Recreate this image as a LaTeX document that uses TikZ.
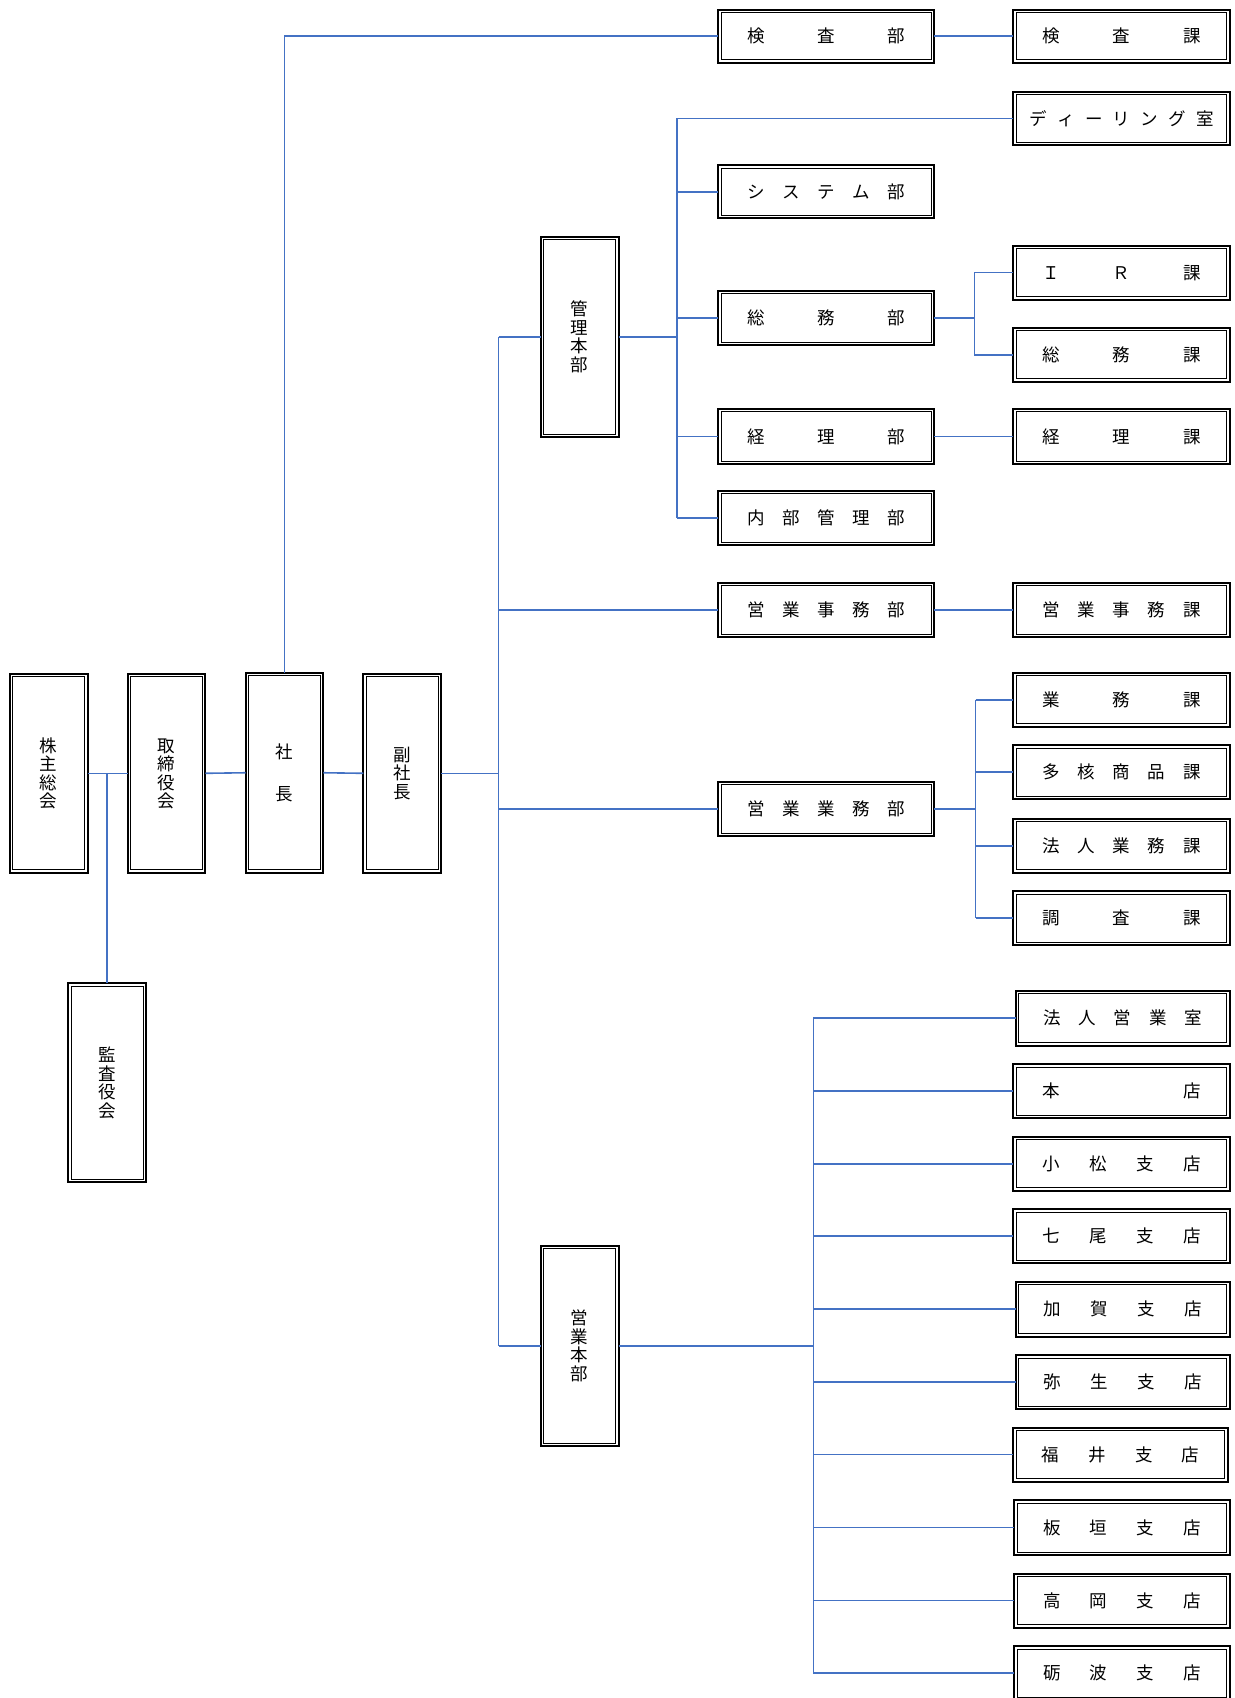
\documentclass[tikz,border=0pt]{standalone}
\usepackage{fontspec}
\newfontfamily\jfont{Noto Sans CJK JP}
\usetikzlibrary{fit,calc}
\definecolor{linkblue}{RGB}{68,114,196}
% horizontal spread text, ink centred on the node centre
\newcommand\spr[2]{\raisebox{-6.65pt}[0pt][0pt]{\makebox[#1]{#2}}}
% vertical stack of characters; #1 = lowering so that the ink is centred
\newcommand\vst[2]{\raisebox{-#1}[0pt][0pt]{\vbox{\baselineskip=18.5pt\lineskiplimit=-100pt\lineskip=0pt #2}}}
\begin{document}
\begin{tikzpicture}[x=1.0815pt,y=-1.0815pt,
  orgbox/.style={draw=black, line width=2pt, inner sep=0pt, outer sep=0pt,
     font=\jfont\fontsize{17.5}{18.5}\selectfont},
  link/.style={draw=linkblue, line width=1.6pt},
]
\clip (0,0) rectangle (1141,1570);
\fill[white] (0,0) rectangle (1141,1570);
% vertical boxes
\node[orgbox, fit={(9,623) (81,807)}] (kabu) {\vst{34.4pt}{\hbox{株}\hbox{主}\hbox{総}\hbox{会}}};
\node[orgbox, fit={(118,623) (190,807)}] (tori) {\vst{34.4pt}{\hbox{取}\hbox{締}\hbox{役}\hbox{会}}};
\node[orgbox, fit={(227,622) (299,807)}] (shacho) {\vst{27.65pt}{\hbox{社}\vskip23.5pt\hbox{長}}};
\node[orgbox, fit={(336,623) (408,807)}] (fuku) {\vst{25.15pt}{\hbox{副}\hbox{社}\hbox{長}}};
\node[orgbox, fit={(63,909) (135,1093)}] (kansa) {\vst{34.4pt}{\hbox{監}\hbox{査}\hbox{役}\hbox{会}}};
\node[orgbox, fit={(500,219) (572,404)}] (kanri) {\vst{34.4pt}{\hbox{管}\hbox{理}\hbox{本}\hbox{部}}};
\node[orgbox, fit={(500,1152) (572,1337)}] (eigyo) {\vst{34.4pt}{\hbox{営}\hbox{業}\hbox{本}\hbox{部}}};
% horizontal boxes
\node[orgbox, fit={(664,9) (864,58)}] (kensabu) {\spr{158pt}{検\hfill 査\hfill 部}};
\node[orgbox, fit={(937,9) (1137,58)}] (kensaka) {\spr{158pt}{検\hfill 査\hfill 課}};
\node[orgbox, fit={(937,85) (1137,134)}] (dealing) {\spr{184pt}{デ\hfill ィ\hfill ー\hfill リ\hfill ン\hfill グ\hfill 室}};
\node[orgbox, fit={(664,153) (864,202)}] (system) {\spr{158pt}{シ\hfill ス\hfill テ\hfill ム\hfill 部}};
\node[orgbox, fit={(664,269) (864,319)}] (somu) {\spr{158pt}{総\hfill 務\hfill 部}};
\node[orgbox, fit={(937,227) (1137,277)}] (ir) {\spr{158pt}{Ｉ\hfill Ｒ\hfill 課}};
\node[orgbox, fit={(937,303) (1137,353)}] (somuka) {\spr{158pt}{総\hfill 務\hfill 課}};
\node[orgbox, fit={(664,378) (864,429)}] (keiri) {\spr{158pt}{経\hfill 理\hfill 部}};
\node[orgbox, fit={(937,378) (1137,429)}] (keirika) {\spr{158pt}{経\hfill 理\hfill 課}};
\node[orgbox, fit={(664,454) (864,504)}] (naibu) {\spr{158pt}{内\hfill 部\hfill 管\hfill 理\hfill 部}};
\node[orgbox, fit={(664,539) (864,589)}] (eijimu) {\spr{158pt}{営\hfill 業\hfill 事\hfill 務\hfill 部}};
\node[orgbox, fit={(937,539) (1137,589)}] (eijimuka) {\spr{158pt}{営\hfill 業\hfill 事\hfill 務\hfill 課}};
\node[orgbox, fit={(937,622) (1137,672)}] (gyomuka) {\spr{158pt}{業\hfill 務\hfill 課}};
\node[orgbox, fit={(937,689) (1137,739)}] (takaku) {\spr{158pt}{多\hfill 核\hfill 商\hfill 品\hfill 課}};
\node[orgbox, fit={(664,723) (864,773)}] (eigyomu) {\spr{158pt}{営\hfill 業\hfill 業\hfill 務\hfill 部}};
\node[orgbox, fit={(937,757) (1137,807)}] (hojingyomu) {\spr{158pt}{法\hfill 人\hfill 業\hfill 務\hfill 課}};
\node[orgbox, fit={(937,824) (1137,874)}] (chosa) {\spr{158pt}{調\hfill 査\hfill 課}};
\node[orgbox, fit={(939,916) (1137,967)}] (hojineig) {\spr{158pt}{法\hfill 人\hfill 営\hfill 業\hfill 室}};
\node[orgbox, fit={(937,984) (1137,1034)}] (honten) {\spr{158pt}{本\hfill 店}};
\node[orgbox, fit={(937,1051) (1137,1101)}] (komatsu) {\spr{158pt}{小\hfill 松\hfill 支\hfill 店}};
\node[orgbox, fit={(937,1118) (1137,1168)}] (nanao) {\spr{158pt}{七\hfill 尾\hfill 支\hfill 店}};
\node[orgbox, fit={(939,1185) (1137,1236)}] (kaga) {\spr{158pt}{加\hfill 賀\hfill 支\hfill 店}};
\node[orgbox, fit={(939,1253) (1137,1303)}] (yayoi) {\spr{158pt}{弥\hfill 生\hfill 支\hfill 店}};
\node[orgbox, fit={(937,1320) (1135,1370)}] (fukui) {\spr{158pt}{福\hfill 井\hfill 支\hfill 店}};
\node[orgbox, fit={(938,1387) (1137,1438)}] (itagaki) {\spr{158pt}{板\hfill 垣\hfill 支\hfill 店}};
\node[orgbox, fit={(938,1455) (1137,1505)}] (takaoka) {\spr{158pt}{高\hfill 岡\hfill 支\hfill 店}};
\node[orgbox, fit={(938,1522) (1137,1572)}] (tonami) {\spr{158pt}{砺\hfill 波\hfill 支\hfill 店}};
% inner lines of the double borders
\foreach \n in {kabu,tori,shacho,fuku,kansa,kanri,eigyo,kensabu,kensaka,dealing,system,somu,ir,somuka,keiri,keirika,naibu,eijimu,eijimuka,gyomuka,takaku,eigyomu,hojingyomu,chosa,hojineig,honten,komatsu,nanao,kaga,yayoi,fukui,itagaki,takaoka,tonami}
  \draw[line width=1pt] ($(\n.north west)+(2.9pt,-2.9pt)$) rectangle ($(\n.south east)+(-2.9pt,2.9pt)$);
% junction columns
\coordinate (tr) at (461,0);
\coordinate (b1) at (626,0);
\coordinate (b2) at (901,0);
\coordinate (b3) at (902,0);
\coordinate (b4) at (752,0);
% connectors
\draw[link] (kabu.east) -- (tori.west);
\draw[link] (kansa.north |- kabu.east) -- (kansa.north);
\draw[link] (tori.east) -- (shacho.west);
\draw[link] (shacho.north) |- (kensabu.west);
\draw[link] (shacho.east) -- (fuku.west);
\draw[link] (fuku.east) -- (fuku.east -| tr);
\draw[link] (tr |- kanri.west) -- (tr |- eigyo.west);
\draw[link] (tr |- kanri.west) -- (kanri.west);
\draw[link] (tr |- eigyo.west) -- (eigyo.west);
\draw[link] (tr |- eijimu.west) -- (eijimu.west);
\draw[link] (tr |- eigyomu.west) -- (eigyomu.west);
\draw[link] (kanri.east) -- (kanri.east -| b1);
\draw[link] (b1 |- dealing.west) -- (b1 |- naibu.west);
\foreach \n in {dealing,system,somu,keiri,naibu} \draw[link] (b1 |- \n.west) -- (\n.west);
\draw[link] (kensabu.east) -- (kensaka.west);
\draw[link] (somu.east) -- (somu.east -| b2);
\draw[link] (b2 |- ir.west) -- (b2 |- somuka.west);
\foreach \n in {ir,somuka} \draw[link] (b2 |- \n.west) -- (\n.west);
\draw[link] (keiri.east) -- (keirika.west);
\draw[link] (eijimu.east) -- (eijimuka.west);
\draw[link] (eigyomu.east) -- (eigyomu.east -| b3);
\draw[link] (b3 |- gyomuka.west) -- (b3 |- chosa.west);
\foreach \n in {gyomuka,takaku,hojingyomu,chosa} \draw[link] (b3 |- \n.west) -- (\n.west);
\draw[link] (eigyo.east) -- (eigyo.east -| b4);
\draw[link] (b4 |- hojineig.west) -- (b4 |- tonami.west);
\foreach \n in {hojineig,honten,komatsu,nanao,kaga,yayoi,fukui,itagaki,takaoka,tonami} \draw[link] (b4 |- \n.west) -- (\n.west);
\end{tikzpicture}
\end{document}
